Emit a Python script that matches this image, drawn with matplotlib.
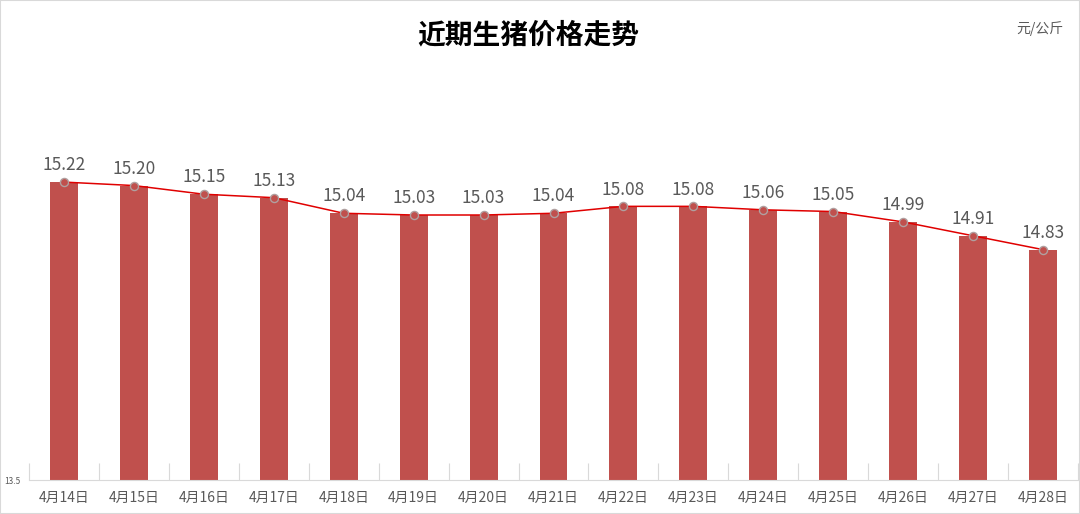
import matplotlib.pyplot as plt
import numpy as np
from matplotlib.patches import Rectangle

plt.rcParams['font.family'] = ['Noto Sans CJK SC', 'DejaVu Sans']

dates = ["4月14日", "4月15日", "4月16日", "4月17日", "4月18日", "4月19日", "4月20日", "4月21日",
         "4月22日", "4月23日", "4月24日", "4月25日", "4月26日", "4月27日", "4月28日"]
prices = [15.22, 15.20, 15.15, 15.13, 15.04, 15.03, 15.03, 15.04,
          15.08, 15.08, 15.06, 15.05, 14.99, 14.91, 14.83]

fig = plt.figure(figsize=(10.8, 5.14), dpi=100)
ax = fig.add_axes([29 / 1080, 34 / 514, 1049 / 1080, 433 / 514])

x = np.arange(len(dates))
ax.bar(x, np.array(prices) - 13.5, bottom=13.5, width=0.4, color='#C0504D', zorder=2)
ax.plot(x, prices, color='#E00000', lw=1.1, zorder=3)
ax.scatter(x, prices, s=34, color='#C0504D', edgecolors='#B0A0A0', linewidths=1.0, zorder=4)

for xi, v in zip(x, prices):
    ax.text(xi, v + 0.045, f"{v:.2f}", ha='center', va='bottom', fontsize=12.5, color='#595959', zorder=5)

ax.set_xlim(-0.5, len(dates) - 0.5)
ax.set_ylim(13.5, 16.0)
ax.set_xticks(x)
ax.set_xticklabels(dates, fontsize=10, color='#595959')
ax.set_xticks(np.arange(-0.5, len(dates), 1), minor=True)
ax.tick_params(axis='x', which='major', length=0, pad=8)
ax.tick_params(axis='x', which='minor', length=12, direction='in', color='#D9D9D9', width=0.8)
ax.set_yticks([13.5])
ax.set_yticklabels(["13.5"], fontsize=6, color='#595959')
ax.tick_params(axis='y', length=0, pad=6)

for s in ['top', 'right', 'left']:
    ax.spines[s].set_visible(False)
ax.spines['bottom'].set_color('#D9D9D9')
ax.spines['bottom'].set_linewidth(0.8)

fig.text(528 / 1080, 1 - 35 / 514, "近期生猪价格走势", ha='center', va='center',
         fontsize=20, fontweight='bold', color='#000000')
fig.text(1063 / 1080, 1 - 29 / 514, "元/公斤", ha='right', va='center', fontsize=10, color='#595959')

fig.patches.append(Rectangle((0, 0), 1, 1, transform=fig.transFigure, fill=False,
                             edgecolor='#D9D9D9', lw=1.5))

fig.savefig("out.png", dpi=100)
